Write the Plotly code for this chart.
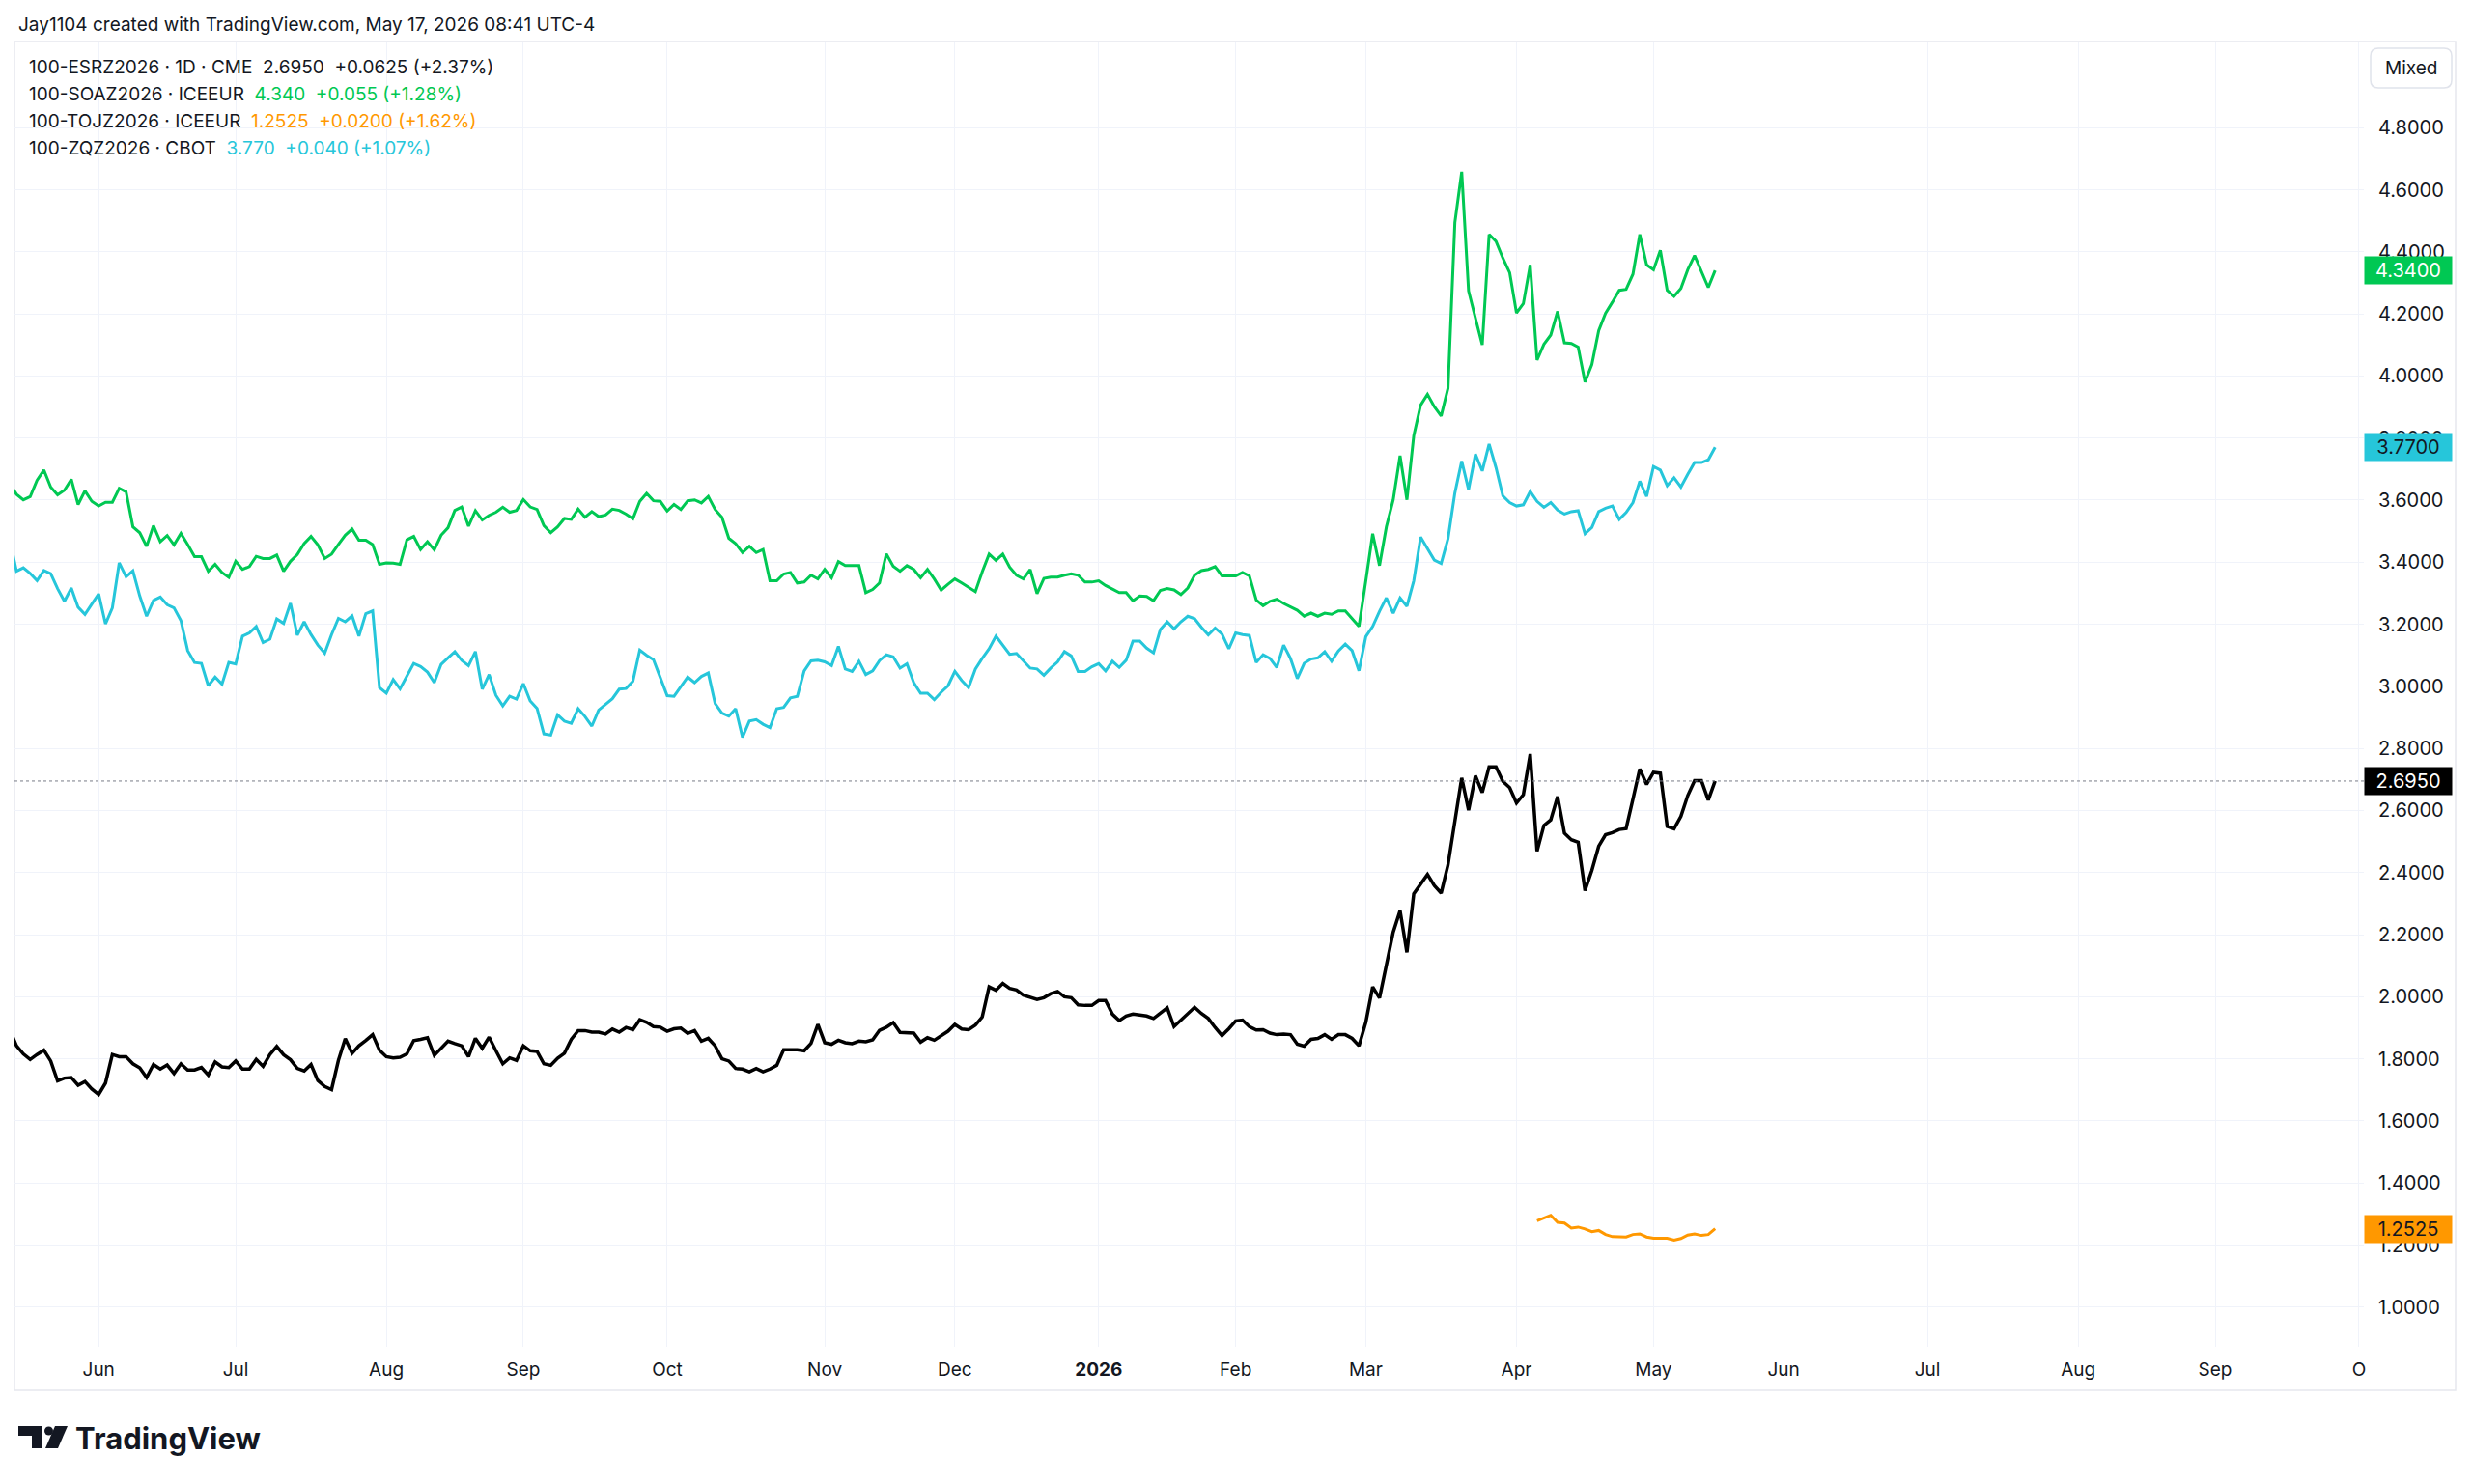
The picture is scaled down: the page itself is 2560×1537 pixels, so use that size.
import pandas as pd
import plotly.graph_objects as go

# ==============================
# Data
# ==============================
HOLIDAYS = [
    "2025-05-26", "2025-06-19", "2025-07-04", "2025-08-25", "2025-09-01",
    "2025-11-27", "2025-12-25", "2025-12-26", "2026-01-01", "2026-01-19",
    "2026-02-16", "2026-04-03", "2026-04-06", "2026-05-04", "2026-05-25",
    "2026-06-19", "2026-07-03", "2026-08-31", "2026-09-07",
]
LAST_DATE = "2026-05-15"

# 100-SOAZ2026 (green)
SOA = [
    3.653, 3.619, 3.601, 3.611, 3.664, 3.697, 3.642, 3.617, 3.632, 3.667,
    3.586, 3.630, 3.596, 3.581, 3.593, 3.593, 3.638, 3.627, 3.514, 3.495,
    3.451, 3.518, 3.466, 3.486, 3.456, 3.493, 3.457, 3.418, 3.418, 3.371,
    3.393, 3.367, 3.351, 3.403, 3.377, 3.386, 3.419, 3.412, 3.412, 3.423,
    3.371, 3.403, 3.425, 3.460, 3.483, 3.456, 3.412, 3.426, 3.457, 3.487,
    3.507, 3.471, 3.471, 3.457, 3.393, 3.398, 3.397, 3.393, 3.472, 3.483,
    3.441, 3.466, 3.440, 3.487, 3.511, 3.567, 3.578, 3.516, 3.566, 3.536,
    3.551, 3.561, 3.577, 3.561, 3.567, 3.602, 3.578, 3.570, 3.518, 3.495,
    3.514, 3.541, 3.538, 3.571, 3.545, 3.563, 3.547, 3.552, 3.571, 3.567,
    3.555, 3.540, 3.596, 3.622, 3.598, 3.596, 3.565, 3.586, 3.570, 3.598,
    3.601, 3.591, 3.612, 3.570, 3.545, 3.477, 3.460, 3.431, 3.451, 3.431,
    3.441, 3.340, 3.340, 3.362, 3.367, 3.333, 3.336, 3.358, 3.346, 3.377,
    3.350, 3.402, 3.389, 3.389, 3.389, 3.302, 3.312, 3.333, 3.427, 3.387,
    3.371, 3.389, 3.377, 3.350, 3.377, 3.346, 3.310, 3.329, 3.346, 3.333,
    3.319, 3.305, 3.369, 3.426, 3.406, 3.426, 3.384, 3.358, 3.346, 3.376,
    3.299, 3.348, 3.352, 3.352, 3.358, 3.363, 3.358, 3.336, 3.336, 3.340,
    3.325, 3.313, 3.302, 3.302, 3.276, 3.291, 3.290, 3.276, 3.309, 3.315,
    3.311, 3.296, 3.317, 3.358, 3.373, 3.377, 3.386, 3.356, 3.356, 3.356,
    3.367, 3.356, 3.278, 3.260, 3.274, 3.281, 3.267, 3.255, 3.245, 3.226,
    3.236, 3.226, 3.236, 3.232, 3.243, 3.243, 3.219, 3.193,
    3.340, 3.492, 3.389, 3.514, 3.601, 3.743, 3.601, 3.808, 3.906, 3.941,
    3.901, 3.871, 3.961, 4.494, 4.658, 4.274, 4.187, 4.100, 4.456, 4.434,
    4.380, 4.333, 4.203, 4.233, 4.358, 4.051, 4.102, 4.132, 4.208, 4.107,
    4.105, 4.093, 3.980, 4.037, 4.146, 4.202, 4.238, 4.276, 4.279, 4.328,
    4.456, 4.358, 4.342, 4.405, 4.276, 4.257, 4.282, 4.342, 4.388, 4.336,
    4.285, 4.340,
]

# 100-ZQZ2026 (cyan)
ZQ = [
    3.474, 3.371, 3.382, 3.364, 3.341, 3.373, 3.363, 3.315, 3.274, 3.317,
    3.255, 3.232, 3.265, 3.298, 3.201, 3.253, 3.398, 3.353, 3.372, 3.291,
    3.226, 3.277, 3.288, 3.263, 3.253, 3.212, 3.115, 3.077, 3.074, 3.002,
    3.030, 3.007, 3.077, 3.072, 3.162, 3.172, 3.193, 3.141, 3.152, 3.217,
    3.203, 3.268, 3.165, 3.208, 3.167, 3.133, 3.107, 3.167, 3.219, 3.208,
    3.227, 3.162, 3.234, 3.243, 2.996, 2.978, 3.022, 2.992, 3.033, 3.074,
    3.064, 3.046, 3.012, 3.071, 3.092, 3.112, 3.084, 3.067, 3.112, 2.991,
    3.038, 2.971, 2.937, 2.968, 2.959, 3.009, 2.953, 2.929, 2.847, 2.843,
    2.908, 2.888, 2.881, 2.928, 2.903, 2.872, 2.924, 2.943, 2.960, 2.991,
    2.993, 3.017, 3.117, 3.100, 3.086, 3.028, 2.970, 2.968, 2.999, 3.030,
    3.012, 3.032, 3.043, 2.945, 2.914, 2.904, 2.928, 2.836, 2.888, 2.893,
    2.878, 2.867, 2.928, 2.932, 2.963, 2.968, 3.050, 3.082, 3.084, 3.079,
    3.067, 3.129, 3.056, 3.048, 3.081, 3.038, 3.050, 3.083, 3.102, 3.095,
    3.059, 3.073, 3.012, 2.978, 2.978, 2.957, 2.981, 3.002, 3.048, 3.019,
    2.996, 3.056, 3.090, 3.121, 3.162, 3.131, 3.103, 3.106, 3.081, 3.059,
    3.056, 3.036, 3.059, 3.079, 3.112, 3.098, 3.048, 3.048, 3.063, 3.073,
    3.050, 3.081, 3.061, 3.084, 3.146, 3.146, 3.123, 3.108, 3.183, 3.208,
    3.185, 3.208, 3.226, 3.218, 3.190, 3.166, 3.188, 3.169, 3.121, 3.172,
    3.167, 3.164, 3.077, 3.102, 3.090, 3.061, 3.133, 3.090, 3.025, 3.074,
    3.088, 3.092, 3.112, 3.081, 3.114, 3.136, 3.115, 3.050,
    3.160, 3.193, 3.242, 3.285, 3.236, 3.285, 3.258, 3.340, 3.481, 3.443,
    3.407, 3.396, 3.476, 3.623, 3.726, 3.634, 3.748, 3.694, 3.781, 3.705,
    3.614, 3.592, 3.581, 3.585, 3.628, 3.596, 3.577, 3.592, 3.568, 3.555,
    3.563, 3.566, 3.492, 3.512, 3.563, 3.574, 3.581, 3.538, 3.560, 3.592,
    3.661, 3.612, 3.708, 3.697, 3.647, 3.672, 3.642, 3.683, 3.721, 3.721,
    3.730, 3.770,
]

# 100-ESRZ2026 (black, main series)
ESR = [
    1.894, 1.842, 1.816, 1.798, 1.814, 1.828, 1.793, 1.729, 1.738, 1.740,
    1.715, 1.727, 1.703, 1.685, 1.722, 1.814, 1.807, 1.807, 1.784, 1.771,
    1.740, 1.782, 1.767, 1.780, 1.753, 1.784, 1.764, 1.764, 1.772, 1.748,
    1.790, 1.774, 1.772, 1.793, 1.767, 1.767, 1.798, 1.776, 1.814, 1.840,
    1.813, 1.797, 1.769, 1.761, 1.782, 1.730, 1.711, 1.701, 1.795, 1.865,
    1.818, 1.842, 1.859, 1.878, 1.828, 1.807, 1.803, 1.805, 1.816, 1.859,
    1.863, 1.868, 1.811, 1.836, 1.857, 1.849, 1.842, 1.807, 1.866, 1.834,
    1.870, 1.826, 1.784, 1.803, 1.795, 1.842, 1.826, 1.824, 1.784, 1.779,
    1.802, 1.818, 1.863, 1.891, 1.891, 1.886, 1.886, 1.880, 1.896, 1.886,
    1.901, 1.894, 1.926, 1.918, 1.904, 1.902, 1.889, 1.897, 1.899, 1.882,
    1.891, 1.857, 1.866, 1.842, 1.800, 1.793, 1.769, 1.767, 1.758, 1.769,
    1.758, 1.767, 1.779, 1.829, 1.829, 1.829, 1.826, 1.850, 1.911, 1.852,
    1.847, 1.860, 1.852, 1.849, 1.857, 1.855, 1.861, 1.892, 1.902, 1.917,
    1.885, 1.883, 1.883, 1.854, 1.868, 1.860, 1.873, 1.889, 1.911, 1.896,
    1.894, 1.909, 1.935, 2.032, 2.021, 2.043, 2.027, 2.022, 2.005, 1.999,
    1.991, 1.997, 2.010, 2.017, 2.000, 1.997, 1.974, 1.972, 1.972, 1.988,
    1.988, 1.944, 1.923, 1.938, 1.944, 1.941, 1.938, 1.930, 1.948, 1.964,
    1.904, 1.925, 1.943, 1.966, 1.946, 1.930, 1.901, 1.875, 1.897, 1.922,
    1.925, 1.904, 1.893, 1.894, 1.883, 1.878, 1.880, 1.878, 1.847, 1.841,
    1.863, 1.866, 1.878, 1.863, 1.878, 1.878, 1.866, 1.842,
    1.918, 2.032, 1.996, 2.099, 2.208, 2.277, 2.143, 2.332, 2.365, 2.394,
    2.358, 2.334, 2.425, 2.570, 2.705, 2.601, 2.712, 2.658, 2.741, 2.741,
    2.694, 2.674, 2.624, 2.651, 2.782, 2.469, 2.552, 2.570, 2.645, 2.527,
    2.506, 2.498, 2.342, 2.407, 2.485, 2.522, 2.529, 2.539, 2.542, 2.637,
    2.734, 2.684, 2.723, 2.720, 2.549, 2.541, 2.581, 2.648, 2.696, 2.696,
    2.634, 2.695,
]

# 100-TOJZ2026 (orange, only recent bars)
TOJ = [
    1.278, 1.288, 1.296, 1.273, 1.271, 1.255, 1.258, 1.252, 1.243, 1.247,
    1.234, 1.227, 1.226, 1.226, 1.234, 1.236, 1.226, 1.222, 1.222, 1.222,
    1.216, 1.221, 1.232, 1.236, 1.231, 1.234, 1.2525,
]

MONTH_TICKS = [
    "2025-06-02", "2025-07-01", "2025-08-01", "2025-09-02", "2025-10-01",
    "2025-11-03", "2025-12-01", "2026-01-02", "2026-02-02", "2026-03-02",
    "2026-04-01", "2026-05-01", "2026-06-01", "2026-07-01", "2026-08-03",
    "2026-09-01", "2026-10-01",
]
MONTH_LABELS = ["Jun", "Jul", "Aug", "Sep", "Oct", "Nov", "Dec", "<b>2026</b>",
                "Feb", "Mar", "Apr", "May", "Jun", "Jul", "Aug", "Sep", "O"]

PRICE_TICKS = [1.0, 1.2, 1.4, 1.6, 1.8, 2.0, 2.2, 2.4, 2.6, 2.8,
               3.0, 3.2, 3.4, 3.6, 3.8, 4.0, 4.2, 4.4, 4.6, 4.8]

# ==============================
# Style
# ==============================
FONT = "Inter, Roboto, sans-serif"
TEXT = "#131722"
GRID = "#f0f3fa"
GREEN = "#00c853"
CYAN = "#26c6da"
ORANGE = "#ff9800"
BLACK = "#000000"

# page offset of the figure (body margin), screenshot size
OFF = 8
W, H = 2560 - OFF, 1537 - OFF
PL, PR, PT, PB = 15, 2448, 43, 1395   # plot area in screenshot px


def px2x(px):
    return (px - PL) / (PR - PL)


def py2y(py):
    return (PB - py) / (PB - PT)


# ==============================
# Figure
# ==============================
dates = pd.bdate_range(end=LAST_DATE, periods=len(ESR), freq="C", holidays=HOLIDAYS)

fig = go.Figure()
fig.add_trace(go.Scatter(x=dates[-len(TOJ):], y=TOJ, mode="lines",
                         line=dict(color=ORANGE, width=3), hoverinfo="skip"))
fig.add_trace(go.Scatter(x=dates, y=ZQ, mode="lines",
                         line=dict(color=CYAN, width=3), hoverinfo="skip"))
fig.add_trace(go.Scatter(x=dates, y=SOA, mode="lines",
                         line=dict(color=GREEN, width=3), hoverinfo="skip"))
fig.add_trace(go.Scatter(x=dates, y=ESR, mode="lines",
                         line=dict(color=BLACK, width=3.5), hoverinfo="skip"))

fig.update_layout(
    width=W, height=H,
    margin=dict(l=PL - OFF, r=W - (PR - OFF), t=PT - OFF, b=H - (PB - OFF)),
    paper_bgcolor="white", plot_bgcolor="white",
    showlegend=False,
    font=dict(family=FONT, color=TEXT, size=19),
)

fig.update_xaxes(
    type="date",
    range=["2025-05-13 17:00", "2026-10-01 17:00"],
    rangebreaks=[dict(bounds=["sat", "mon"]), dict(values=HOLIDAYS)],
    tickvals=MONTH_TICKS, ticktext=MONTH_LABELS,
    tickfont=dict(size=19, color=TEXT, family=FONT),
    showgrid=True, gridcolor=GRID, gridwidth=1,
    ticks="", showline=False, zeroline=False,
    ticklabelstandoff=10,
)
fig.update_yaxes(
    side="right",
    range=[0.872, 5.0775],
    tickvals=PRICE_TICKS,
    tickformat=".4f",
    tickfont=dict(size=20, color=TEXT, family=FONT),
    showgrid=True, gridcolor=GRID, gridwidth=1,
    ticks="", showline=False, zeroline=False,
    ticklabelstandoff=14,
)

shapes = []
# outer frame
shapes.append(dict(type="rect", xref="paper", yref="paper",
                   x0=px2x(15), x1=px2x(2543), y0=py2y(1440), y1=py2y(43),
                   line=dict(color="#e6e8ee", width=1.5), fillcolor="rgba(0,0,0,0)", layer="below"))
# last price line of the main series
shapes.append(dict(type="line", xref="paper", yref="y", x0=0, x1=1,
                   y0=ESR[-1], y1=ESR[-1],
                   line=dict(color="#787b86", width=1, dash="dot")))

# "Mixed" button with rounded corners
bx0, bx1, by0, by1, r = 2455, 2539, 50, 91, 8
pts = [
    f"M {px2x(bx0 + r)},{py2y(by0)}",
    f"L {px2x(bx1 - r)},{py2y(by0)}",
    f"Q {px2x(bx1)},{py2y(by0)} {px2x(bx1)},{py2y(by0 + r)}",
    f"L {px2x(bx1)},{py2y(by1 - r)}",
    f"Q {px2x(bx1)},{py2y(by1)} {px2x(bx1 - r)},{py2y(by1)}",
    f"L {px2x(bx0 + r)},{py2y(by1)}",
    f"Q {px2x(bx0)},{py2y(by1)} {px2x(bx0)},{py2y(by1 - r)}",
    f"L {px2x(bx0)},{py2y(by0 + r)}",
    f"Q {px2x(bx0)},{py2y(by0)} {px2x(bx0 + r)},{py2y(by0)} Z",
]
shapes.append(dict(type="path", xref="paper", yref="paper", path=" ".join(pts),
                   line=dict(color="#e0e3eb", width=1.5), fillcolor="white"))

# TradingView logo mark
logo_t = [(19, 1477), (44, 1477), (44, 1500), (33, 1500), (33, 1487), (19, 1487)]
logo_s = [(57, 1477), (70, 1477), (60, 1500), (47, 1500)]
for poly in (logo_t, logo_s):
    p = "M " + " L ".join(f"{px2x(a)},{py2y(b)}" for a, b in poly) + " Z"
    shapes.append(dict(type="path", xref="paper", yref="paper", path=p,
                       line=dict(width=0), fillcolor=TEXT))
shapes.append(dict(type="circle", xref="paper", yref="paper",
                   x0=px2x(46), x1=px2x(55), y0=py2y(1486.5), y1=py2y(1477.5),
                   line=dict(width=0), fillcolor=TEXT))
fig.update_layout(shapes=shapes)

annotations = []
annotations.append(dict(
    text="Jay1104 created with TradingView.com, May 17, 2026 08:41 UTC-4",
    xref="paper", yref="paper", x=px2x(17), y=py2y(26),
    xanchor="left", yanchor="middle", showarrow=False,
    font=dict(size=19, color=TEXT, family=FONT)))

NB = "\u00a0"
legend_rows = [
    (f"100-ESRZ2026 · 1D · CME{NB}{NB}2.6950{NB}{NB}+0.0625 (+2.37%)", None, ""),
    ("100-SOAZ2026 · ICEEUR", GREEN, f"4.340{NB}{NB}+0.055 (+1.28%)"),
    ("100-TOJZ2026 · ICEEUR", ORANGE, f"1.2525{NB}{NB}+0.0200 (+1.62%)"),
    ("100-ZQZ2026 · CBOT", CYAN, f"3.770{NB}{NB}+0.040 (+1.07%)"),
]
for (name, col, vals), yy in zip(legend_rows, [70, 98, 125, 153]):
    txt = name
    if col:
        txt += f"{NB}{NB}<span style='color:{col}'>{vals}</span>"
    annotations.append(dict(
        text=txt, xref="paper", yref="paper", x=px2x(28), y=py2y(yy),
        xanchor="left", yanchor="middle", showarrow=False,
        font=dict(size=19, color=TEXT, family=FONT)))

annotations.append(dict(
    text="Mixed", xref="paper", yref="paper", x=px2x(2497), y=py2y(70.5),
    xanchor="center", yanchor="middle", showarrow=False,
    font=dict(size=19, color=TEXT, family=FONT)))

# last value labels on the price scale
for val, bg, fg in [(SOA[-1], GREEN, "white"),
                    (ZQ[-1], CYAN, TEXT),
                    (ESR[-1], BLACK, "white"),
                    (TOJ[-1], ORANGE, TEXT)]:
    annotations.append(dict(
        text=f"{val:.4f}", xref="paper", yref="y", x=px2x(2494), y=val,
        xanchor="center", yanchor="middle", showarrow=False,
        bgcolor=bg, width=84, height=22, borderpad=3,
        font=dict(size=20, color=fg, family=FONT)))

annotations.append(dict(
    text="<b>TradingView</b>", xref="paper", yref="paper", x=px2x(76), y=py2y(1490),
    xanchor="left", yanchor="middle", showarrow=False,
    font=dict(size=31, color=TEXT, family=FONT)))

fig.update_layout(annotations=annotations)

fig.write_html("out.html")
